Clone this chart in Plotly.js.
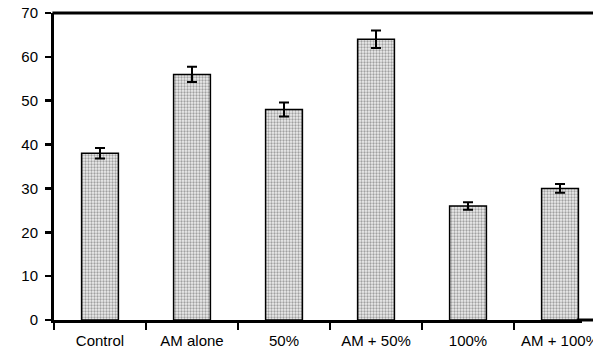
<!DOCTYPE html>
<html>
<head>
<meta charset="utf-8">
<script src="https://cdn.plot.ly/plotly-3.0.1.min.js"></script>
<style>html,body{margin:0;padding:0;background:#fff;overflow:hidden;}#chart{width:593px;height:350px;}</style>
</head>
<body>
<div id="chart"></div>
<script>
var categories = ["Control", "AM alone", "50%", "AM + 50%", "100%", "AM + 100%"];
var values = [38, 56, 48, 64, 26, 30];
var errors = [1.2, 1.75, 1.6, 2.0, 0.85, 1.0];
var yTicks = [0, 10, 20, 30, 40, 50, 60, 70];

var trace = {
  type: "bar",
  x: categories,
  y: values,
  width: 0.4,
  marker: {
    color: "#d8d8d8",
    line: {color: "#000", width: 1.5},
    pattern: {shape: ".", fgcolor: "#a0a0a0", bgcolor: "#eeeeee", size: 3, solidity: 0.45}
  },
  error_y: {type: "data", array: errors, visible: true, color: "#000", thickness: 2, width: 5},
  hoverinfo: "none"
};

var layout = {
  width: 593,
  height: 350,
  margin: {l: 54, r: 11, t: 13, b: 30, pad: 0},
  paper_bgcolor: "#fff",
  plot_bgcolor: "#fff",
  showlegend: false,
  font: {family: "Liberation Sans, Arial, sans-serif", size: 15, color: "#000"},
  xaxis: {
    type: "category",
    range: [-0.5, 5.239],
    showline: true, linewidth: 3, linecolor: "#000", mirror: false,
    ticks: "outside", tickson: "boundaries", ticklen: 7, tickwidth: 2, tickcolor: "#000",
    ticklabelstandoff: 5,
    showgrid: false, zeroline: false,
    tickfont: {size: 15}
  },
  yaxis: {
    range: [0, 70],
    tickvals: yTicks,
    ticktext: yTicks.map(String),
    showline: true, linewidth: 3, linecolor: "#000", mirror: false,
    ticks: "outside", ticklen: 6, tickwidth: 2.5, tickcolor: "#000",
    ticklabelstandoff: 4,
    showgrid: false, zeroline: false,
    tickfont: {size: 15}
  },
  shapes: [
    {type: "line", xref: "paper", yref: "paper", x0: -0.003, x1: 1.04, y0: 1, y1: 1,
     line: {color: "#000", width: 3}},
    {type: "line", xref: "paper", yref: "paper", x0: 0.99, x1: 1.04, y0: 0, y1: 0,
     line: {color: "#000", width: 3}}
  ]
};

Plotly.newPlot("chart", [trace], layout, {staticPlot: true, displayModeBar: false});
</script>
</body>
</html>
